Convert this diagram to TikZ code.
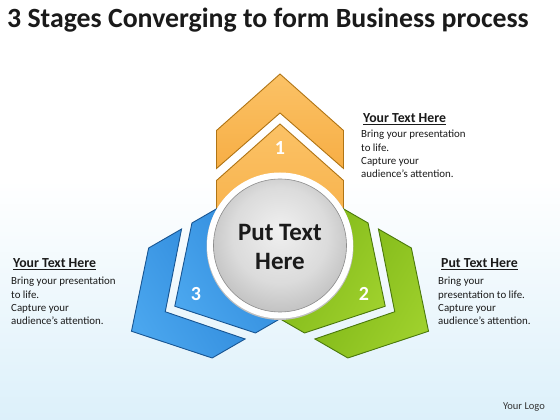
\documentclass[tikz,border=0pt]{standalone}
\usepackage{fontspec}
\setmainfont{Carlito}
\definecolor{orA}{HTML}{FBC266}
\definecolor{orB}{HTML}{F7AE45}
\definecolor{orL}{HTML}{B07414}
\definecolor{blA}{HTML}{4AA6EE}
\definecolor{blB}{HTML}{2E88DA}
\definecolor{blL}{HTML}{185592}
\definecolor{grA}{HTML}{9ED02C}
\definecolor{grB}{HTML}{7DB516}
\definecolor{grL}{HTML}{4A780C}
\definecolor{bgblue}{HTML}{DCF0FA}
\definecolor{txt}{HTML}{1A1A1A}
\pgfdeclareradialshading{ballshade}{\pgfpoint{0bp}{6bp}}{%
  color(0bp)=(black!6); color(18bp)=(black!14); color(34bp)=(black!30);
  color(44bp)=(black!42); color(50bp)=(black!50)}
\tikzset{
  stagepart/.style={line width=0.9pt, line join=miter},
  numlabel/.style={font=\bfseries\fontsize{20}{20}\selectfont, text=white},
  heading/.style={font=\bfseries\fontsize{13.8}{15}\selectfont, anchor=base west, inner sep=0pt, text=txt},
  bodytext/.style={font=\fontsize{10.9}{13.4}\selectfont, align=left, anchor=base west, inner sep=0pt, text=txt},
}
\newcommand\drawstage[5]{%
  \begin{scope}[shift={(280,174.5)}, rotate=#1]
    \draw[stagepart, draw=#4, top color=#2, bottom color=#3, shading angle=#1]
      (0,171.5) -- (63.5,115) -- (63.5,77) -- (0,132.5) -- (-63.5,77) -- (-63.5,115) -- cycle;
    \draw[stagepart, draw=#4, top color=#2, bottom color=#3, shading angle=#1]
      (0,121.5) -- (63.5,65) -- (63.5,36.66) -- (0,0) -- (-63.5,36.66) -- (-63.5,65) -- cycle;
    \node[numlabel] (num#5) at (0,97) {#5};
  \end{scope}}
\begin{document}
\begin{tikzpicture}[x=1pt, y=1pt]
  \useasboundingbox (0,0) rectangle (560,420);
  \fill[white] (0,0) rectangle (560,420);
  \shade[top color=white, bottom color=bgblue] (0,0) rectangle (560,240);

  \node[font=\bfseries\fontsize{27.8}{32}\selectfont, anchor=base west, inner sep=0pt, text=txt]
    (title) at (7,392) {3 Stages Converging to form Business process};

  \drawstage{0}{orA}{orB}{orL}{1}
  \drawstage{-120}{grA}{grB}{grL}{2}
  \drawstage{120}{blA}{blB}{blL}{3}

  \fill[black!25] (280,173.5) circle[radius=73.5];
  \fill[white] (280,174.5) circle[radius=73];
  \shade[shading=ballshade, draw=black!45, line width=0.6pt] (280,174.5) circle[radius=66.5];
  \node[font=\bfseries\fontsize{25}{29}\selectfont, align=center, text=txt] (center) at (280,173) {Put Text\\Here};

  \node[heading] (h1) at (363,297) {\underline{Your Text Here}};
  \node[bodytext] (b1) at (361,242) {Bring your presentation\\to life.\\Capture your\\audience’s attention.};

  \node[heading] (h3) at (13,152) {\underline{Your Text Here}};
  \node[bodytext] (b3) at (11,95) {Bring your presentation\\to life.\\Capture your\\audience’s attention.};

  \node[heading] (h2) at (441,152) {\underline{Put Text Here}};
  \node[bodytext] (b2) at (438,95) {Bring your\\presentation to life.\\Capture your\\audience’s attention.};

  \node[font=\fontsize{10.5}{12}\selectfont, text=black!80] (logo) at (524,13) {Your Logo};
\end{tikzpicture}
\end{document}
